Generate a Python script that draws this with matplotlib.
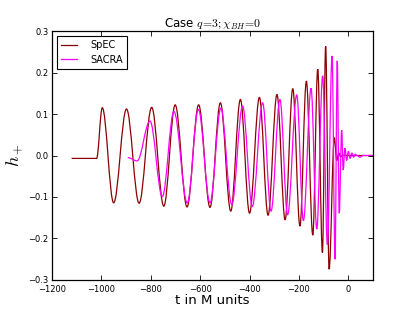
import matplotlib
matplotlib.use("Agg")
import matplotlib.pyplot as plt
from matplotlib.path import Path
from matplotlib.patches import PathPatch

# turning points of h_+: (t in M units, h_+)
spec_t = [-1120, -1019, -996, -950, -898, -847, -796, -747, -701, -653,
          -606, -560, -518, -476, -437, -400, -360, -325, -289, -256,
          -225, -196, -170, -144, -124, -105, -92, -78, -57, -47,
          -39, -31, -22, 0, 100]
spec_h = [-0.007, -0.007, 0.115, -0.114, 0.112, -0.115, 0.116, -0.122, 0.122, -0.124,
          0.122, -0.125, 0.127, -0.134, 0.135, -0.139, 0.140, -0.144, 0.147, -0.155,
          0.161, -0.170, 0.179, -0.192, 0.208, -0.234, 0.263, -0.274, 0.043, -0.012,
          0.006, -0.003, 0.001, 0.0, 0.0]

sacra_t = [-893, -855, -803, -753, -706, -652, -607, -560, -516, -472,
           -428, -389, -347, -313, -277, -246, -209, -182, -151, -128,
           -104, -85, -66, -54, -45, -37, -27, -21, -14, -7,
           0, 7, 14, 21, 28, 35, 47, 60, 100]
sacra_h = [-0.005, -0.013, 0.083, -0.099, 0.106, -0.114, 0.111, -0.114, 0.114, -0.118,
           0.119, -0.123, 0.127, -0.134, 0.135, -0.143, 0.146, -0.157, 0.162, -0.177,
           0.192, -0.215, 0.240, -0.250, 0.228, -0.139, 0.061, -0.035, 0.018, -0.012,
           0.010, -0.007, 0.006, -0.004, 0.003, 0.0, -0.004, 0.0, 0.0]

labels = ["SpEC", "SACRA"]
colors = ["#8b0000", "#ff00ff"]

plt.rcParams["mathtext.fontset"] = "cm"
plt.rcParams["xtick.direction"] = "in"
plt.rcParams["ytick.direction"] = "in"
plt.rcParams["xtick.top"] = True
plt.rcParams["ytick.right"] = True


def wave_path(t, h, k=0.3642):
    # smooth curve through the turning points (flat tangent at each one)
    verts = [(t[0], h[0])]
    codes = [Path.MOVETO]
    for i in range(1, len(t)):
        dt = t[i] - t[i - 1]
        verts += [(t[i - 1] + k * dt, h[i - 1]), (t[i] - k * dt, h[i]), (t[i], h[i])]
        codes += [Path.CURVE4] * 3
    return Path(verts, codes)


fig = plt.figure(figsize=(4.15, 3.12), dpi=100)
ax = fig.add_axes([0.125, 0.1026, 0.774, 0.798])

for (t, h), lab, c in zip([(spec_t, spec_h), (sacra_t, sacra_h)], labels, colors):
    ax.add_patch(PathPatch(wave_path(t, h), fill=False, edgecolor=c, lw=0.9))
    ax.plot([], [], color=c, lw=0.9, label=lab)

ax.set_xlim(-1200, 100)
ax.set_ylim(-0.3, 0.3)
ax.set_xticks(range(-1200, 1, 200))
ax.set_yticks([-0.3, -0.2, -0.1, 0.0, 0.1, 0.2, 0.3])
ax.tick_params(labelsize=6, length=3.5, width=0.6, pad=2.5)
ax.tick_params(axis="x", pad=3.5)
for s in ax.spines.values():
    s.set_linewidth(0.9)

ax.set_title(r"Case $q\!=\!3;\chi_{BH}\!=\!0$", fontsize=8.5, pad=3)
ax.set_xlabel("t in M units", fontsize=9.5, labelpad=0)
ax.set_ylabel(r"$h_+$", fontsize=13, labelpad=2)

leg = ax.legend(loc="upper left", fontsize=7, fancybox=False, framealpha=1,
                edgecolor="black", handlelength=1.6, borderpad=0.45,
                labelspacing=0.45, handletextpad=1.4, borderaxespad=0.5)
leg.get_frame().set_linewidth(0.8)

fig.savefig("out.png", dpi=100, facecolor="white")
